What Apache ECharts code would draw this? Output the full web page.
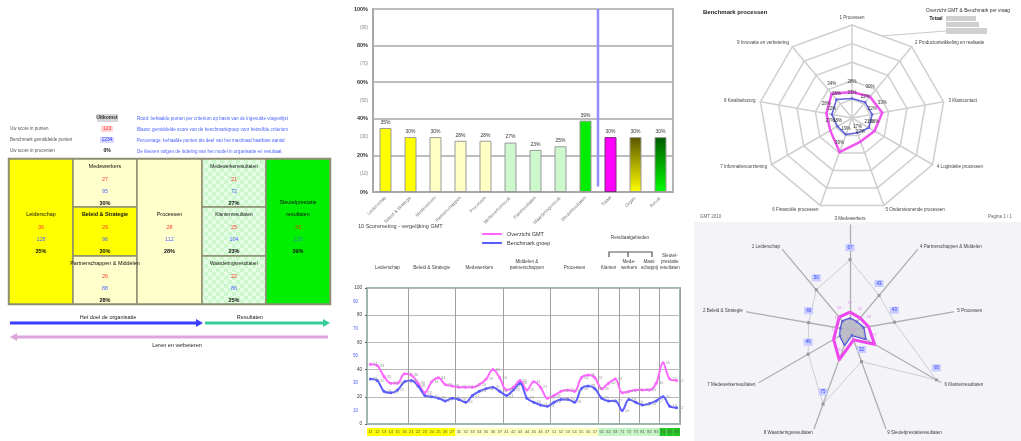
<!DOCTYPE html>
<html>
<head>
<meta charset="utf-8">
<script src="https://cdn.jsdelivr.net/npm/echarts@6/dist/echarts.min.js"></script>
<style>
  html, body { margin: 0; padding: 0; background: #ffffff; }
  #c { width: 1021px; height: 441px; }
</style>
</head>
<body>
<div id="c"></div>
<script>
// ---------- EFQM model overview ----------
const modelNames = ['Leiderschap', 'Medewerkers', 'Beleid & Strategie', 'Partnerschappen & Middelen', 'Processen',
  'Medewerkerresultaten', 'Klantenresultaten', 'Waarderingsresultaten', 'Sleutelprestatie\nresultaten'];
const modelPoints = [36, 27, 29, 26, 28, 21, 25, 22, 43];
const modelBenchmark = [128, 95, 96, 88, 112, 72, 104, 86, 129];
const modelBarIndex = [0, 2, 1, 3, 4, 5, 6, 7, 8];
const legendRows = ['Uw score in punten', 'Benchmark gemiddelde punten', 'Uw score in procenten'];
const legendSamples = ['123', '1234', '0%'];
const noteLines = [
  'Rood: behaalde punten per criterium op basis van de ingevulde vragenlijst',
  'Blauw: gemiddelde score van de benchmarkgroep voor hetzelfde criterium',
  'Percentage: behaalde punten als deel van het maximaal haalbare aantal',
  'De kleuren volgen de indeling van het model in organisatie en resultaat'
];

// ---------- Score per criterium (bars) ----------
const barCategories = ['Leiderschap', 'Beleid & Strategie', 'Medewerkers', 'Partnerschappen', 'Processen',
  'Medewerkerresult.', 'Klantresultaten', 'Waarderingsresult.', 'Sleutelresultaten', 'Totaal', 'Organ.', 'Result.'];
const barValues = [35, 30, 30, 28, 28, 27, 23, 25, 39, 30, 30, 30];
const separatorAt = 8.5;

// ---------- Scoremeting per vraag (lines) ----------
const sectionNames = ['Leiderschap', 'Beleid & Strategie', 'Medewerkers', 'Middelen &\npartnerschappen', 'Processen',
  'Klanten', 'Mede-\nwerkers', 'Maat-\nschappij', 'Sleutel-\nprestatie\nresultaten'];
const sectionSizes = [6, 7, 7, 7, 7, 3, 3, 3, 3];
const gmtScores = [44, 43, 35, 30, 30, 37, 36, 30, 23, 31, 34, 29, 28, 27, 27, 27, 29, 33, 40, 34, 25, 27, 32,
  25, 31, 27, 19, 21, 24, 25, 24, 34, 36, 34, 26, 30, 33, 23, 24, 25, 25, 25, 30, 45, 33, 32];
const benchScores = [33, 32, 24, 23, 25, 31, 32, 28, 21, 20, 19, 17, 19, 18, 16, 21, 24, 26, 27, 24, 21, 25, 30,
  19, 16, 14, 13, 16, 18, 18, 16, 26, 28, 26, 19, 17, 17, 10, 18, 16, 14, 15, 17, 20, 13, 12];
const questionIds = [];
sectionSizes.forEach((n, s) => { for (let k = 1; k <= n; k++) questionIds.push(String((s + 1) * 10 + k)); });

// ---------- Benchmark processen (radar, counter-clockwise from top) ----------
const procNames = ['1 Processen', '9 Innovatie en verbetering', '8 Kwaliteitszorg', '7 Informatievoorziening',
  '6 Financiële processen', '5 Ondersteunende processen', '4 Logistieke processen', '3 Klantcontact',
  '2 Productontwikkeling en realisatie'];
const procGmt = [28, 34, 28, 27, 39, 27, 28, 33, 30];
const procBench = [21, 26, 22, 18, 19, 17, 21, 22, 22];

// ---------- Criteria radar (counter-clockwise from top) ----------
const critNames = ['3 Medewerkers', '1 Leiderschap', '2 Beleid & Strategie', '7 Medewerkerresultaten',
  '8 Waarderingsresultaten', '9 Sleutelprestatieresultaten', '6 Klantenresultaten', '5 Processen',
  '4 Partnerschappen & Middelen'];
const critGmt = [17, 16, 13, 18, 30, 10, 27, 18, 15];
const critBench = [11, 11, 9, 11, 15, 5, 17, 13, 10];
const critMax = [67, 50, 40, 46, 75, 32, 95, 43, 43];

// ---------- drawing ----------
const chart = echarts.init(document.getElementById('c'));
const FONT = 'Liberation Sans, Arial, sans-serif';

function txt(x, y, text, st) {
  return { type: 'text', x: x, y: y, z: 10,
    style: Object.assign({ text: text, fontSize: 5, fontFamily: FONT, fill: '#333', align: 'center', verticalAlign: 'middle' }, st || {}) };
}
function box(x0, y0, x1, y1, fill, stroke, lw, z) {
  return { type: 'rect', z: z === undefined ? 1 : z, shape: { x: x0, y: y0, width: x1 - x0, height: y1 - y0 },
    style: { fill: fill, stroke: stroke || null, lineWidth: lw || 0 } };
}
function checker(a, b) {
  const c = document.createElement('canvas');
  c.width = 8; c.height = 8;
  const g = c.getContext('2d');
  g.fillStyle = a; g.fillRect(0, 0, 8, 8);
  g.fillStyle = b; g.fillRect(0, 0, 4, 4); g.fillRect(4, 4, 4, 4);
  return { image: c, repeat: 'repeat' };
}
function arrow(x0, x1, y, color) {
  const dir = x1 > x0 ? 1 : -1;
  return [
    { type: 'line', z: 5, shape: { x1: x0, y1: y, x2: x1 - dir * 5, y2: y }, style: { stroke: color, lineWidth: 3 } },
    { type: 'polygon', z: 5, shape: { points: [[x1 - dir * 7, y - 4], [x1, y], [x1 - dir * 7, y + 4]] }, style: { fill: color } }
  ];
}

const green = checker('#cdf8cd', '#e4fde4');
// cell layout: x0, x1, y0, y1, fill
const cellBoxes = [
  [9, 73, 159, 304, '#ffff00'], [73, 137, 159, 207, '#ffffcc'], [73, 137, 207, 256, '#ffff00'],
  [73, 137, 256, 304, '#ffffcc'], [137, 202, 159, 304, '#ffffcc'], [202, 266, 159, 207, green],
  [202, 266, 207, 256, green], [202, 266, 256, 304, green], [266, 330, 159, 304, '#00f000']
];

const g = [];
// light backdrop behind the criteria radar
g.push(box(694, 222, 1021, 441, '#f3f3f8', null, 0, -20));

// model header / legend
g.push(box(97, 114, 118, 122, '#d6d6d6', null, 0, 2));
g.push(txt(107, 118, 'Uitkomst', { fontWeight: 'bold', fontSize: 5 }));
legendRows.forEach((t, i) => {
  g.push(txt(10, 129 + i * 11, t, { align: 'left', fill: '#555', fontSize: 4.5 }));
});
g.push(box(101, 126, 113, 132, '#ffd6d6', null, 0, 2));
g.push(box(100, 137, 114, 143, '#d6d6ff', null, 0, 2));
g.push(txt(107, 129, legendSamples[0], { fill: '#ff2a2a', fontSize: 5 }));
g.push(txt(107, 140, legendSamples[1], { fill: '#3344ff', fontSize: 5 }));
g.push(txt(107, 151, legendSamples[2], { fill: '#111', fontSize: 5, fontWeight: 'bold' }));
noteLines.forEach((t, i) => {
  g.push(txt(137, 119 + i * 10.8, t, { align: 'left', fill: '#4d66ff', fontSize: 4.6 }));
});

// model cells
g.push(box(9, 159, 330, 304, '#ffffff', '#8e8e72', 2.5, 1));
cellBoxes.forEach((c, i) => {
  g.push(box(c[0], c[2], c[1], c[3], c[4], '#8e8e72', 1.5, 2));
  const cx = (c[0] + c[1]) / 2;
  const full = (c[3] - c[2]) > 100;
  const y0 = full ? 207 : c[2];
  const pct = barValues[modelBarIndex[i]];
  g.push(txt(cx, full && i === 8 ? 209 : y0 + 8, modelNames[i],
    { fontSize: i >= 5 && i <= 7 ? 4.8 : 5.4, fill: '#111', lineHeight: 12, fontWeight: i === 2 ? 'bold' : 'normal' }));
  g.push(txt(cx, y0 + 20, String(modelPoints[i]), { fill: i === 8 ? '#c05010' : '#ff3a2a', fontSize: 5.5 }));
  g.push(txt(cx, y0 + 32, String(modelBenchmark[i]), { fill: i === 8 ? '#2b8fb0' : '#5566ff', fontSize: 5.5 }));
  g.push(txt(cx, y0 + 44, pct + '%', { fill: '#111', fontSize: 5.5, fontWeight: 'bold' }));
});

// flow arrows
g.push(...arrow(10, 203, 323, '#3b3bff'));
g.push(...arrow(205, 330, 323, '#36cc9c'));
g.push(...arrow(328, 10, 337, '#dca6dc'));
g.push(txt(108, 317, 'Het doel de organisatie', { fontSize: 5.5, fill: '#222' }));
g.push(txt(250, 317, 'Resultaten', { fontSize: 5.5, fill: '#222' }));
g.push(txt(177, 345, 'Leren en verbeteren', { fontSize: 5.5, fill: '#222' }));

// line chart header
const LX = 367, LW = 313, nQ = questionIds.length;
g.push(txt(358, 226, '10 Scoremeting - vergelijking GMT', { align: 'left', fontSize: 5.5, fill: '#444' }));
let start = 0;
sectionSizes.forEach((n, s) => {
  const cx = LX + LW * (start + n / 2) / nQ;
  g.push(txt(cx, 271, sectionNames[s], { fontSize: 4.6, fill: '#444', verticalAlign: 'bottom', lineHeight: 6 }));
  start += n;
});
g.push({ type: 'polyline', z: 5, shape: { points: [[609, 257], [609, 252], [652, 252], [652, 257]] }, style: { stroke: '#555', lineWidth: 1.2, fill: null } });
g.push({ type: 'line', z: 5, shape: { x1: 628, y1: 252, x2: 628, y2: 257 }, style: { stroke: '#555', lineWidth: 1.2 } });
g.push(txt(630, 238, 'Resultaatgebieden', { fontSize: 4.6, fill: '#444' }));

// radar panel texts
g.push(txt(703, 12, 'Benchmark processen', { align: 'left', fontSize: 6, fontWeight: 'bold', fill: '#222' }));
g.push(txt(1010, 11, 'Overzicht GMT & Benchmark per vraag', { align: 'right', fontSize: 4.8, fill: '#333' }));
g.push(txt(936, 19, 'Totaal', { fontSize: 4.6, fontWeight: 'bold', fill: '#222' }));
g.push(box(946, 16, 976, 21, '#cfcfcf', null, 0, 2));
g.push(box(946, 22, 979, 27, '#cfcfcf', null, 0, 2));
g.push(box(946, 28, 987, 34, '#cfcfcf', null, 0, 2));
g.push({ type: 'line', z: 3, shape: { x1: 881, y1: 36, x2: 946, y2: 31 }, style: { stroke: '#c8c8c8', lineWidth: 1 } });
g.push(txt(700, 217, 'GMT 2010', { align: 'left', fontSize: 4.5, fill: '#666' }));
g.push(txt(1012, 217, 'Pagina 1 / 1', { align: 'right', fontSize: 4.5, fill: '#666' }));

const stripColors = ['#ffff00', '#ffff00', '#ffffbe', '#ffffbe', '#ffffbe', '#c4f4c4', '#c4f4c4', '#c4f4c4', '#22c422'];
const sectionOf = [];
sectionSizes.forEach((n, s) => { for (let k = 0; k < n; k++) sectionOf.push(s); });
const boundaries = [];
sectionSizes.reduce((acc, n) => { boundaries.push(acc); return acc + n; }, 0);
const stripRich = {};
stripColors.forEach((c, s) => {
  stripRich['s' + s] = { backgroundColor: c, width: LW / nQ, height: 8, align: 'center', fontSize: 4, color: '#555', padding: 0 };
});

const option = {
  animation: false,
  backgroundColor: '#ffffff',
  textStyle: { fontFamily: FONT },
  legend: {
    data: ['Overzicht GMT', 'Benchmark groep'], orient: 'vertical', left: 476, top: 226,
    itemWidth: 20, itemHeight: 3, itemGap: 3, selectedMode: false,
    textStyle: { fontSize: 5.5, color: '#333' }
  },
  grid: [
    { left: 373, top: 9, width: 300, height: 183, show: true, borderColor: '#b4b4b4', borderWidth: 2, backgroundColor: '#ffffff', outerBoundsMode: 'none' },
    { left: LX, top: 288, width: LW, height: 136, show: true, borderColor: '#9fb5b2', borderWidth: 2, backgroundColor: '#ffffff', outerBoundsMode: 'none' }
  ],
  xAxis: [
    { gridIndex: 0, type: 'category', data: barCategories,
      axisLine: { lineStyle: { color: '#a8a8a8', width: 2 } }, axisTick: { show: false },
      axisLabel: { rotate: 45, fontSize: 4.5, color: '#777', interval: 0, margin: 5 } },
    { gridIndex: 0, type: 'value', min: -0.5, max: barCategories.length - 0.5, show: false },
    { gridIndex: 1, type: 'category', data: questionIds,
      axisLine: { lineStyle: { color: '#9fb5b2', width: 2 } }, axisTick: { show: false },
      splitLine: { show: true, interval: (i) => boundaries.indexOf(i) > 0, lineStyle: { color: '#a0a0a0', width: 1 } },
      axisLabel: { interval: 0, margin: 4,
        formatter: (v, i) => '{s' + sectionOf[i] + '|' + v + '}', rich: stripRich } }
  ],
  yAxis: [
    { gridIndex: 0, type: 'value', min: 0, max: 100, interval: 20, position: 'left',
      axisLine: { show: true, onZero: false, lineStyle: { color: '#a8a8a8', width: 2 } }, axisTick: { show: false },
      splitLine: { lineStyle: { color: '#bdbdbd', width: 2 } },
      axisLabel: { formatter: '{value}%', fontSize: 5.5, fontWeight: 'bold', color: '#333', margin: 5 } },
    { gridIndex: 0, type: 'value', min: 0, max: 100, interval: 10, position: 'left', offset: 0,
      axisLine: { show: false, onZero: false }, axisTick: { show: false }, splitLine: { show: false },
      axisLabel: { formatter: (v) => (v % 20 ? '(' + v + ')' : ''), fontSize: 4.5, color: '#888', margin: 5 } },
    { gridIndex: 1, type: 'value', min: 0, max: 100, interval: 20, position: 'left',
      axisLine: { show: true, onZero: false, lineStyle: { color: '#9fb5b2', width: 2 } }, axisTick: { show: true, length: 2, lineStyle: { color: '#666' } },
      splitLine: { lineStyle: { color: '#b8b8b8', width: 1 } },
      axisLabel: { fontSize: 4.5, color: '#333', margin: 5 } },
    { gridIndex: 1, type: 'value', min: 0, max: 100, interval: 10, position: 'left', offset: 0,
      axisLine: { show: false, onZero: false }, axisTick: { show: false }, splitLine: { show: false },
      axisLabel: { formatter: (v) => (v % 20 ? String(v) : ''), fontSize: 4.5, color: '#4d5cff', margin: 9 } }
  ],
  radar: [
    { center: [852, 118], radius: 93, startAngle: 90, splitNumber: 5, shape: 'polygon',
      indicator: procNames.map((n) => ({ name: n, max: 100 })),
      axisName: { color: '#444', fontSize: 4.5 }, nameGap: 5,
      splitLine: { lineStyle: { color: '#cfcfcf', width: 1.5 } }, splitArea: { show: false },
      axisLine: { lineStyle: { color: '#cfcfcf', width: 1.5 } } },
    { center: [850, 330], radius: 105, startAngle: 90, splitNumber: 1, shape: 'polygon',
      indicator: critNames.map((n) => ({ name: n, max: 100 })),
      axisName: { color: '#444', fontSize: 4.5 }, nameGap: 4,
      splitLine: { show: false }, splitArea: { show: false },
      axisLine: { lineStyle: { color: '#b0b0b0', width: 1.3 } } }
  ],
  series: [
    { type: 'bar', xAxisIndex: 0, yAxisIndex: 0, barWidth: 12,
      data: barValues.map((v, i) => {
        const colors = ['#ffff00', '#ffff00', '#ffffc4', '#ffffc4', '#ffffc4', '#ccf8cc', '#ccf8cc', '#ccf8cc', '#00ee00', '#ff00ff',
          new echarts.graphic.LinearGradient(0, 0, 0, 1, [{ offset: 0, color: '#5a5500' }, { offset: 1, color: '#ffff00' }]),
          new echarts.graphic.LinearGradient(0, 0, 0, 1, [{ offset: 0, color: '#005a00' }, { offset: 1, color: '#00ff00' }])];
        return { value: v, itemStyle: { color: colors[i], borderColor: i === 9 ? '#7a2a7a' : '#9a9a9a', borderWidth: 1 } };
      }),
      label: { show: true, position: 'top', formatter: '{c}%', fontSize: 5, color: '#333', distance: 3 } },
    { type: 'line', xAxisIndex: 1, yAxisIndex: 0, silent: true, symbol: 'none',
      data: [[separatorAt, 3], [separatorAt, 100]], lineStyle: { color: '#8d8dff', width: 2.5 } },
    { type: 'line', name: 'Overzicht GMT', xAxisIndex: 2, yAxisIndex: 2, data: gmtScores, smooth: 0.35,
      symbol: 'circle', symbolSize: 3, color: '#ff66ff', lineStyle: { width: 2, color: '#ff66ff' },
      label: { show: true, fontSize: 4, color: '#999', position: 'right', distance: 1 } },
    { type: 'line', name: 'Benchmark groep', xAxisIndex: 2, yAxisIndex: 2, data: benchScores, smooth: 0.35,
      symbol: 'circle', symbolSize: 3, color: '#5c5cff', lineStyle: { width: 2, color: '#5c5cff' },
      label: { show: true, fontSize: 4, color: '#999', position: 'right', distance: 1 } },
    { type: 'radar', radarIndex: 0, name: 'Overzicht GMT', symbol: 'circle', symbolSize: 2.5,
      data: [{ value: procGmt, name: 'Overzicht GMT' }], color: '#ee55ee', lineStyle: { width: 2.5, color: '#ee55ee' },
      label: { show: true, formatter: '{c}%', fontSize: 4.5, color: '#333', distance: 6 } },
    { type: 'radar', radarIndex: 0, name: 'Benchmark groep', symbol: 'circle', symbolSize: 2.5,
      data: [{ value: procBench, name: 'Benchmark groep' }], color: '#6262dd', lineStyle: { width: 1.5, color: '#6262dd' },
      label: { show: true, formatter: '{c}%', fontSize: 4.5, color: '#333', distance: 2 } },
    { type: 'radar', radarIndex: 1, name: 'Spreiding', symbol: 'rect', symbolSize: 3,
      data: [{ value: critMax, name: 'Spreiding' }], color: '#9a9a9a', lineStyle: { width: 1, color: '#cdcdd6' },
      label: { show: true, formatter: '{c}', fontSize: 4.5, color: '#3344ff', backgroundColor: '#c9ccff', padding: [1, 2], distance: 7 } },
    { type: 'radar', radarIndex: 1, name: 'Overzicht GMT', symbol: 'circle', symbolSize: 3,
      data: [{ value: critGmt, name: 'Overzicht GMT' }], color: '#ee44ee', lineStyle: { width: 3, color: '#ee44ee' },
      label: { show: true, formatter: '{c}', fontSize: 4, color: '#e58ce5', distance: 6 } },
    { type: 'radar', radarIndex: 1, name: 'Benchmark groep', symbol: 'circle', symbolSize: 2.5,
      data: [{ value: critBench, name: 'Benchmark groep' }], color: '#4646dd', lineStyle: { width: 2, color: '#4646dd' },
      areaStyle: { color: '#b9b9c4', opacity: 0.9 } }
  ],
  graphic: { elements: g }
};
chart.setOption(option);
</script>
</body>
</html>
